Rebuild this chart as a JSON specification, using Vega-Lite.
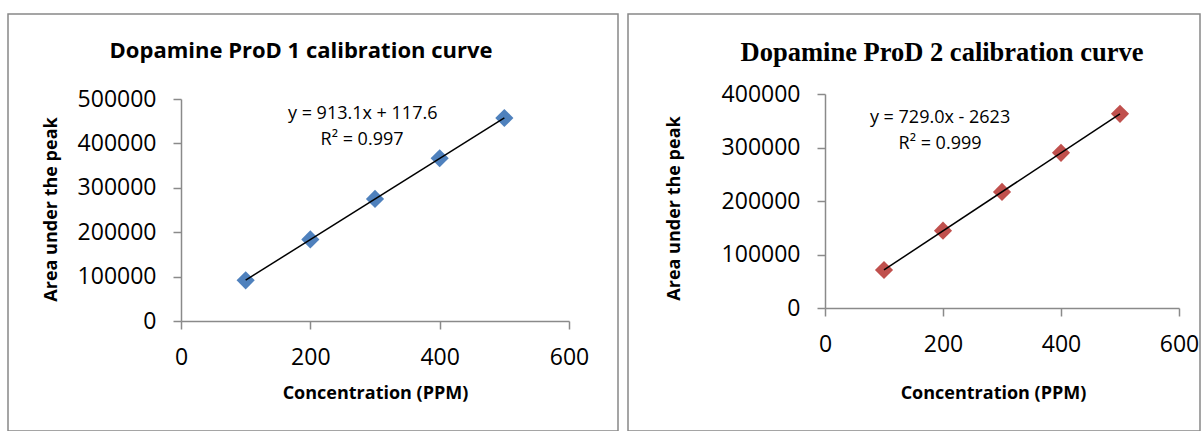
{
  "$schema": "https://vega.github.io/schema/vega-lite/v6.json",
  "padding": {"left": 7, "top": 13, "right": 0, "bottom": 0},
  "background": "white",
  "spacing": 8,
  "config": {
    "view": {"stroke": "#888888", "strokeWidth": 1.5},
    "axis": {
      "domainColor": "#8a8a8a", "domainWidth": 1.5,
      "tickColor": "#8a8a8a", "tickWidth": 1.5, "tickSize": 8,
      "grid": false,
      "labelFont": "Open Sans", "labelFontSize": 23, "labelColor": "#000000", "labelPadding": 17,
      "labelFlush": false, "labelOverlap": false,
      "titleFont": "Open Sans", "titleFontSize": 18, "titleFontWeight": "bold", "titleColor": "#000000"
    }
  },
  "datasets": {
    "prod1": [
      {"ppm": 100, "area": 91500},
      {"ppm": 200, "area": 183800},
      {"ppm": 300, "area": 275000},
      {"ppm": 400, "area": 366500},
      {"ppm": 500, "area": 457200}
    ],
    "prod2": [
      {"ppm": 100, "area": 71000},
      {"ppm": 200, "area": 144500},
      {"ppm": 300, "area": 217000},
      {"ppm": 400, "area": 290000},
      {"ppm": 500, "area": 363000}
    ],
    "eq1": [
      {"ppm": 281, "area": 466000, "label": "y = 913.1x + 117.6"},
      {"ppm": 280, "area": 407600, "label": "R² = 0.997"}
    ],
    "eq2": [
      {"ppm": 195, "area": 355600, "label": "y = 729.0x - 2623"},
      {"ppm": 195, "area": 306900, "label": "R² = 0.999"}
    ]
  },
  "hconcat": [
    {
      "width": 610,
      "height": 417,
      "title": {"text": "Dopamine ProD 1 calibration curve", "font": "Open Sans", "fontSize": 22, "fontWeight": "bold", "color": "#000000", "anchor": "middle", "frame": "group", "offset": -66, "baseline": "alphabetic", "dx": -12},
      "layer": [
        {
          "data": {"name": "prod1"},
          "mark": {"type": "point", "shape": "diamond", "filled": true, "size": 330, "color": "#4F81BD", "opacity": 1},
          "encoding": {
            "x": {"field": "ppm", "type": "quantitative",
              "scale": {"domain": [0, 600], "range": [173, 561], "nice": false, "zero": false},
              "axis": {"values": [0, 200, 400, 600], "format": "d", "offset": -110, "title": "Concentration (PPM)", "titleX": 367, "titleY": 72, "titleAlign": "center", "titleBaseline": "middle"}},
            "y": {"field": "area", "type": "quantitative",
              "scale": {"domain": [0, 500000], "range": [307, 85], "nice": false, "zero": false},
              "axis": {"values": [0, 100000, 200000, 300000, 400000, 500000], "format": "d", "offset": -173, "title": "Area under the peak", "titleX": -130, "titleY": 195, "titleAngle": -90, "titleAlign": "center", "titleBaseline": "middle"}}
          }
        },
        {
          "data": {"name": "prod1"},
          "transform": [{"regression": "area", "on": "ppm"}],
          "mark": {"type": "line", "color": "#000000", "strokeWidth": 1.5},
          "encoding": {
            "x": {"field": "ppm", "type": "quantitative"},
            "y": {"field": "area", "type": "quantitative"}
          }
        },
        {
          "data": {"name": "eq1"},
          "mark": {"type": "text", "font": "Open Sans", "fontSize": 18, "align": "center", "baseline": "middle", "color": "#000000"},
          "encoding": {
            "x": {"field": "ppm", "type": "quantitative"},
            "y": {"field": "area", "type": "quantitative"},
            "text": {"field": "label"}
          }
        }
      ]
    },
    {
      "width": 572,
      "height": 417,
      "title": {"text": "Dopamine ProD 2 calibration curve", "font": "Liberation Serif", "fontSize": 26.5, "fontWeight": "bold", "color": "#000000", "anchor": "middle", "frame": "group", "offset": -73, "baseline": "alphabetic", "dx": 28},
      "layer": [
        {
          "data": {"name": "prod2"},
          "mark": {"type": "point", "shape": "diamond", "filled": true, "size": 330, "color": "#C0504D", "opacity": 1},
          "encoding": {
            "x": {"field": "ppm", "type": "quantitative",
              "scale": {"domain": [0, 600], "range": [197, 551], "nice": false, "zero": false},
              "axis": {"values": [0, 200, 400, 600], "format": "d", "offset": -123, "title": "Concentration (PPM)", "titleX": 365, "titleY": 85, "titleAlign": "center", "titleBaseline": "middle"}},
            "y": {"field": "area", "type": "quantitative",
              "scale": {"domain": [0, 400000], "range": [294, 80], "nice": false, "zero": false},
              "axis": {"values": [0, 100000, 200000, 300000, 400000], "format": "d", "offset": -197, "title": "Area under the peak", "titleX": -151, "titleY": 194, "titleAngle": -90, "titleAlign": "center", "titleBaseline": "middle"}}
          }
        },
        {
          "data": {"name": "prod2"},
          "transform": [{"regression": "area", "on": "ppm"}],
          "mark": {"type": "line", "color": "#000000", "strokeWidth": 1.5},
          "encoding": {
            "x": {"field": "ppm", "type": "quantitative"},
            "y": {"field": "area", "type": "quantitative"}
          }
        },
        {
          "data": {"name": "eq2"},
          "mark": {"type": "text", "font": "Open Sans", "fontSize": 18, "align": "center", "baseline": "middle", "color": "#000000"},
          "encoding": {
            "x": {"field": "ppm", "type": "quantitative"},
            "y": {"field": "area", "type": "quantitative"},
            "text": {"field": "label"}
          }
        }
      ]
    }
  ]
}
